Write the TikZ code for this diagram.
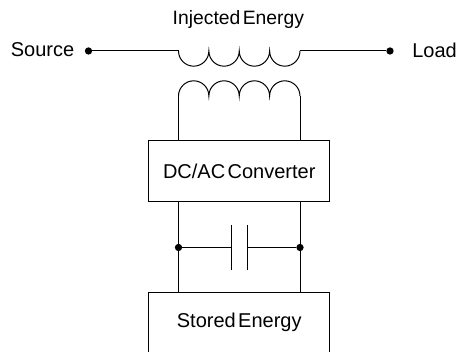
\documentclass[tikz,border=0pt]{standalone}
\usepackage{fontspec}
\setmainfont{Liberation Sans}
\usetikzlibrary{positioning}
\newcommand\tightSpace{\spaceskip 1.8pt\relax}
\tikzset
{
    block/.style = {rectangle, draw=black, line width=0.75pt, minimum width=136.1pt, align=center, font=\fontsize{15}{18}\selectfont\tightSpace},
    label/.style = {inner sep=0pt, font=\fontsize{15}{18}\selectfont},
    junction/.style = {circle, fill=black, inner sep=0pt, minimum size=5.5pt},
    wire/.style = {line width=0.75pt}
}
\begin{document}
\begin{tikzpicture}[x=0.75pt, y=0.75pt]
\useasboundingbox (0,0) rectangle (458,352);
\newcommand\coilRad{11.39pt}
\node(src) [junction] at (88.5,301) {};
\node(load) [junction] at (390,301) {};
\node(srclabel) [label, anchor=east] at (74.5,302) {Source};
\node(loadlabel) [label, anchor=west] at (412,302) {Load};
\node(injected) [label, font=\fontsize{14.5}{18}\selectfont\tightSpace] at (238.4,332.5) {Injected Energy};
\coordinate(pl) at (178.5,301);
\coordinate(pr) at (300,301);
\coordinate(sl) at (178.5,256);
\coordinate(sr) at (300,256);
\node(conv) [block, minimum height=45.75pt] at (239.25,180.5) {DC/AC Converter};
\node(store) [block, minimum height=45.4pt] at (239.25,29.25) {Stored Energy};
\coordinate(cl) at (178.5,150.5);
\coordinate(cr) at (300,150.5);
\coordinate(tl) at (178.5,211);
\coordinate(tr) at (300,211);
\coordinate(bl) at (178.5,59.5);
\coordinate(br) at (300,59.5);
\node(jl) [junction] at (178.5,104.5) {};
\node(jr) [junction] at (300,104.5) {};
\coordinate(capl) at (231.5,104.5);
\coordinate(capr) at (247,104.5);
\draw[wire] (src) -- (pl);
\draw[wire] (pr) -- (load);
\draw[wire] (pl) arc[start angle=180, end angle=360, radius=\coilRad]
    arc[start angle=180, end angle=360, radius=\coilRad]
    arc[start angle=180, end angle=360, radius=\coilRad]
    arc[start angle=180, end angle=360, radius=\coilRad];
\draw[wire] (sl) arc[start angle=180, end angle=0, radius=\coilRad]
    arc[start angle=180, end angle=0, radius=\coilRad]
    arc[start angle=180, end angle=0, radius=\coilRad]
    arc[start angle=180, end angle=0, radius=\coilRad];
\draw[wire] (sl) -- (tl);
\draw[wire] (sr) -- (tr);
\draw[wire] (cl) -- (bl);
\draw[wire] (cr) -- (br);
\draw[wire] (jl) -- (capl);
\draw[wire] (jr) -- (capr);
\draw[wire] ([yshift=16.9pt]capl) -- ([yshift=-16.9pt]capl);
\draw[wire] ([yshift=16.9pt]capr) -- ([yshift=-16.9pt]capr);
\end{tikzpicture}
\end{document}
